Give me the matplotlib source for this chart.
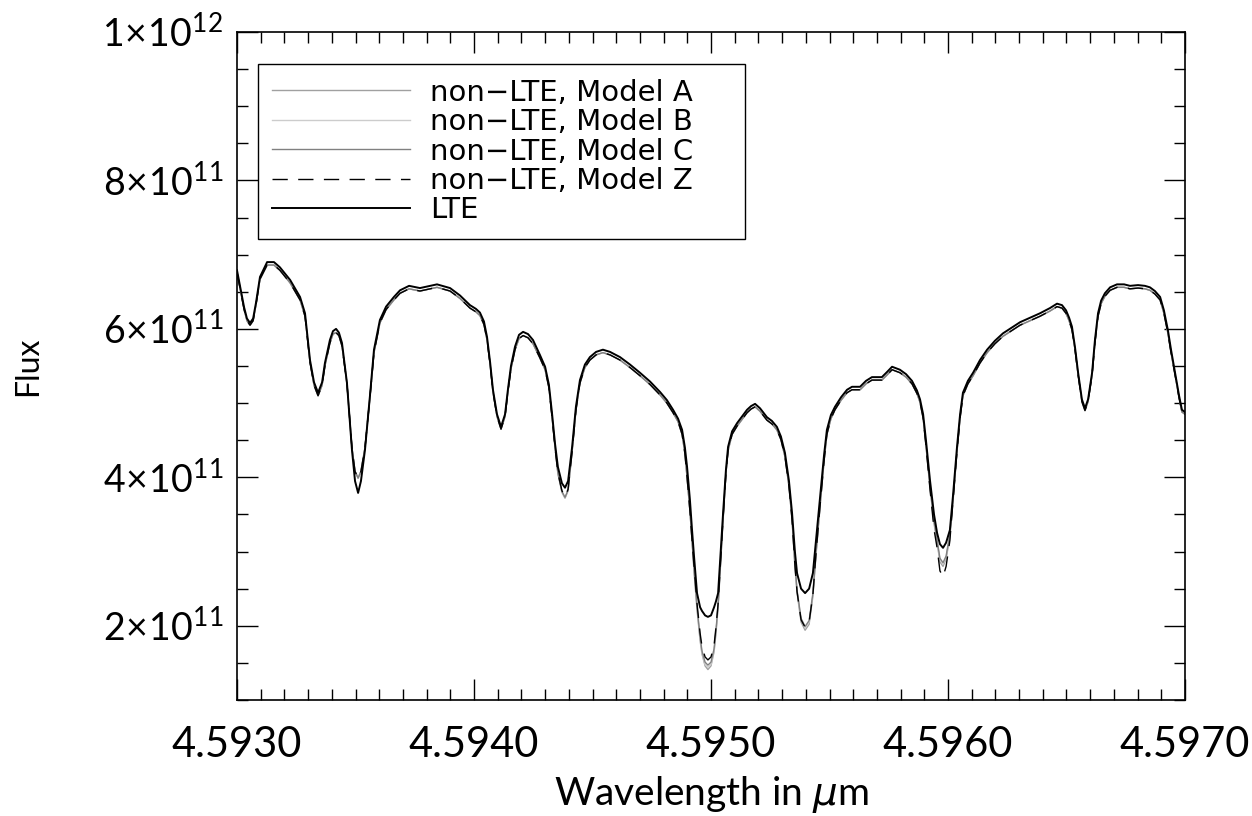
import matplotlib
matplotlib.use("Agg")
import matplotlib.pyplot as plt
from matplotlib.ticker import MultipleLocator, FixedLocator

# wavelength grid in micron
wavelength = [
    4.593000, 4.593030, 4.593042, 4.593055, 4.593068, 4.593080, 4.593097, 4.593127, 4.593156, 4.593181,
    4.593224, 4.593266, 4.593287, 4.593308, 4.593325, 4.593342, 4.593359, 4.593371, 4.593392, 4.593405,
    4.593418, 4.593430, 4.593443, 4.593464, 4.593485, 4.593498, 4.593511, 4.593523, 4.593540, 4.593561,
    4.593578, 4.593603, 4.593629, 4.593662, 4.593688, 4.593726, 4.593772, 4.593814, 4.593844, 4.593899,
    4.593941, 4.593983, 4.594008, 4.594025, 4.594042, 4.594055, 4.594068, 4.594080, 4.594097, 4.594114,
    4.594131, 4.594143, 4.594156, 4.594173, 4.594190, 4.594207, 4.594228, 4.594249, 4.594278, 4.594300,
    4.594316, 4.594329, 4.594342, 4.594354, 4.594371, 4.594384, 4.594397, 4.594414, 4.594430, 4.594447,
    4.594468, 4.594489, 4.594515, 4.594544, 4.594574, 4.594616, 4.594658, 4.594700, 4.594743, 4.594785,
    4.594814, 4.594840, 4.594861, 4.594878, 4.594890, 4.594899, 4.594911, 4.594920, 4.594928, 4.594941,
    4.594954, 4.594962, 4.594975, 4.594987, 4.595000, 4.595013, 4.595021, 4.595030, 4.595038, 4.595051,
    4.595063, 4.595072, 4.595089, 4.595110, 4.595152, 4.595169, 4.595186, 4.595207, 4.595236, 4.595257,
    4.595278, 4.595295, 4.595312, 4.595329, 4.595342, 4.595354, 4.595363, 4.595380, 4.595397, 4.595414,
    4.595430, 4.595443, 4.595460, 4.595477, 4.595489, 4.595506, 4.595523, 4.595549, 4.595574, 4.595595,
    4.595629, 4.595654, 4.595679, 4.595721, 4.595743, 4.595764, 4.595797, 4.595823, 4.595848, 4.595869,
    4.595882, 4.595895, 4.595907, 4.595924, 4.595941, 4.595954, 4.595966, 4.595979, 4.595992, 4.596008,
    4.596021, 4.596038, 4.596051, 4.596063, 4.596084, 4.596106, 4.596135, 4.596165, 4.596198, 4.596232,
    4.596270, 4.596304, 4.596346, 4.596388, 4.596430, 4.596460, 4.596481, 4.596498, 4.596511, 4.596523,
    4.596536, 4.596549, 4.596565, 4.596578, 4.596591, 4.596608, 4.596620, 4.596633, 4.596646, 4.596662,
    4.596684, 4.596713, 4.596743, 4.596768, 4.596802, 4.596831, 4.596852, 4.596873, 4.596895, 4.596911,
    4.596928, 4.596941, 4.596958, 4.596975, 4.596987, 4.597000,
]

# flux in units of 1e11
flux_lte = [
    6.79, 6.29, 6.14, 6.08, 6.14, 6.35, 6.70, 6.90, 6.90, 6.83,
    6.66, 6.43, 6.21, 5.58, 5.28, 5.14, 5.28, 5.54, 5.85, 5.97,
    6.00, 5.95, 5.81, 5.27, 4.37, 3.95, 3.79, 3.95, 4.37, 5.10,
    5.72, 6.12, 6.30, 6.43, 6.52, 6.58, 6.55, 6.58, 6.60, 6.55,
    6.45, 6.32, 6.27, 6.22, 6.10, 5.89, 5.55, 5.18, 4.85, 4.68,
    4.85, 5.18, 5.50, 5.76, 5.92, 5.96, 5.93, 5.85, 5.65, 5.49,
    5.25, 4.87, 4.45, 4.14, 3.92, 3.86, 3.95, 4.41, 4.95, 5.31,
    5.52, 5.62, 5.69, 5.72, 5.69, 5.62, 5.52, 5.41, 5.29, 5.15,
    5.04, 4.91, 4.79, 4.64, 4.40, 4.14, 3.70, 3.29, 2.95, 2.44,
    2.25, 2.20, 2.14, 2.12, 2.14, 2.25, 2.33, 2.44, 2.85, 3.52,
    4.10, 4.41, 4.62, 4.73, 4.91, 4.96, 4.99, 4.93, 4.81, 4.76,
    4.68, 4.55, 4.33, 3.95, 3.52, 3.00, 2.71, 2.50, 2.44, 2.50,
    2.71, 3.15, 3.74, 4.30, 4.64, 4.84, 4.95, 5.08, 5.18, 5.22,
    5.22, 5.30, 5.35, 5.35, 5.42, 5.49, 5.45, 5.39, 5.30, 5.17,
    5.05, 4.85, 4.50, 3.96, 3.50, 3.25, 3.10, 3.05, 3.12, 3.29,
    3.75, 4.41, 4.85, 5.14, 5.30, 5.41, 5.58, 5.72, 5.84, 5.94,
    6.02, 6.09, 6.15, 6.21, 6.28, 6.34, 6.32, 6.25, 6.15, 6.03,
    5.75, 5.41, 5.05, 4.93, 5.05, 5.41, 5.85, 6.21, 6.38, 6.48,
    6.56, 6.60, 6.60, 6.58, 6.59, 6.58, 6.56, 6.51, 6.43, 6.25,
    5.98, 5.72, 5.41, 5.10, 4.91, 4.88,
]

flux_a = [
    6.76, 6.26, 6.11, 6.05, 6.11, 6.32, 6.67, 6.86, 6.86, 6.79,
    6.62, 6.39, 6.17, 5.55, 5.24, 5.10, 5.24, 5.50, 5.81, 5.93,
    5.95, 5.91, 5.77, 5.26, 4.40, 4.08, 3.99, 4.08, 4.40, 5.08,
    5.68, 6.08, 6.26, 6.39, 6.48, 6.54, 6.51, 6.54, 6.56, 6.51,
    6.41, 6.28, 6.23, 6.18, 6.06, 5.85, 5.52, 5.15, 4.82, 4.65,
    4.82, 5.15, 5.46, 5.72, 5.87, 5.91, 5.88, 5.80, 5.61, 5.45,
    5.21, 4.82, 4.40, 4.05, 3.80, 3.72, 3.82, 4.35, 4.90, 5.27,
    5.48, 5.58, 5.65, 5.68, 5.65, 5.58, 5.48, 5.37, 5.25, 5.11,
    5.00, 4.87, 4.75, 4.58, 4.32, 4.00, 3.55, 3.15, 2.75, 2.22,
    1.80, 1.62, 1.46, 1.41, 1.46, 1.65, 1.90, 2.25, 2.70, 3.42,
    4.05, 4.36, 4.58, 4.69, 4.87, 4.92, 4.95, 4.89, 4.77, 4.72,
    4.64, 4.51, 4.28, 3.88, 3.42, 2.80, 2.45, 2.05, 1.94, 2.02,
    2.40, 2.95, 3.60, 4.22, 4.58, 4.79, 4.91, 5.04, 5.14, 5.18,
    5.18, 5.26, 5.31, 5.31, 5.38, 5.45, 5.41, 5.35, 5.26, 5.13,
    5.01, 4.80, 4.43, 3.86, 3.38, 3.12, 2.86, 2.80, 2.90, 3.20,
    3.68, 4.35, 4.80, 5.10, 5.26, 5.37, 5.54, 5.68, 5.80, 5.90,
    5.98, 6.05, 6.11, 6.17, 6.24, 6.30, 6.28, 6.21, 6.11, 5.99,
    5.72, 5.38, 5.02, 4.90, 5.02, 5.38, 5.81, 6.17, 6.34, 6.44,
    6.52, 6.56, 6.56, 6.54, 6.55, 6.54, 6.52, 6.47, 6.39, 6.21,
    5.94, 5.68, 5.38, 5.07, 4.88, 4.85,
]

flux_b = [
    6.76, 6.26, 6.11, 6.05, 6.11, 6.32, 6.67, 6.86, 6.86, 6.79,
    6.62, 6.39, 6.17, 5.55, 5.24, 5.10, 5.24, 5.50, 5.81, 5.93,
    5.95, 5.91, 5.77, 5.26, 4.40, 4.08, 3.99, 4.08, 4.40, 5.08,
    5.68, 6.08, 6.26, 6.39, 6.48, 6.54, 6.51, 6.54, 6.56, 6.51,
    6.41, 6.28, 6.23, 6.18, 6.06, 5.85, 5.52, 5.15, 4.82, 4.65,
    4.82, 5.15, 5.46, 5.72, 5.87, 5.91, 5.88, 5.80, 5.61, 5.45,
    5.21, 4.82, 4.40, 4.05, 3.80, 3.72, 3.82, 4.35, 4.90, 5.27,
    5.48, 5.58, 5.65, 5.68, 5.65, 5.58, 5.48, 5.37, 5.25, 5.11,
    5.00, 4.87, 4.75, 4.58, 4.32, 4.00, 3.55, 3.15, 2.77, 2.24,
    1.82, 1.64, 1.48, 1.44, 1.48, 1.67, 1.92, 2.27, 2.71, 3.43,
    4.05, 4.36, 4.58, 4.69, 4.87, 4.92, 4.95, 4.89, 4.77, 4.72,
    4.64, 4.51, 4.28, 3.88, 3.43, 2.82, 2.47, 2.08, 1.97, 2.05,
    2.42, 2.97, 3.61, 4.22, 4.58, 4.79, 4.91, 5.04, 5.14, 5.18,
    5.18, 5.26, 5.31, 5.31, 5.38, 5.45, 5.41, 5.35, 5.26, 5.13,
    5.01, 4.80, 4.43, 3.87, 3.40, 3.14, 2.89, 2.83, 2.92, 3.22,
    3.68, 4.35, 4.80, 5.10, 5.26, 5.37, 5.54, 5.68, 5.80, 5.90,
    5.98, 6.05, 6.11, 6.17, 6.24, 6.30, 6.28, 6.21, 6.11, 5.99,
    5.72, 5.38, 5.02, 4.90, 5.02, 5.38, 5.81, 6.17, 6.34, 6.44,
    6.52, 6.56, 6.56, 6.54, 6.55, 6.54, 6.52, 6.47, 6.39, 6.21,
    5.94, 5.68, 5.38, 5.07, 4.88, 4.85,
]

flux_c = [
    6.76, 6.26, 6.11, 6.05, 6.11, 6.32, 6.67, 6.86, 6.86, 6.79,
    6.62, 6.39, 6.17, 5.55, 5.24, 5.10, 5.24, 5.50, 5.81, 5.93,
    5.95, 5.91, 5.77, 5.26, 4.40, 4.08, 3.99, 4.08, 4.40, 5.08,
    5.68, 6.08, 6.26, 6.39, 6.48, 6.54, 6.51, 6.54, 6.56, 6.51,
    6.41, 6.28, 6.23, 6.18, 6.06, 5.85, 5.52, 5.15, 4.82, 4.65,
    4.82, 5.15, 5.46, 5.72, 5.87, 5.91, 5.88, 5.80, 5.61, 5.45,
    5.21, 4.82, 4.40, 4.06, 3.81, 3.73, 3.83, 4.35, 4.90, 5.27,
    5.48, 5.58, 5.65, 5.68, 5.65, 5.58, 5.48, 5.37, 5.25, 5.11,
    5.00, 4.87, 4.75, 4.58, 4.32, 4.00, 3.55, 3.15, 2.79, 2.26,
    1.85, 1.66, 1.51, 1.47, 1.51, 1.69, 1.94, 2.28, 2.72, 3.44,
    4.05, 4.36, 4.58, 4.69, 4.87, 4.92, 4.95, 4.89, 4.77, 4.72,
    4.64, 4.51, 4.28, 3.88, 3.44, 2.84, 2.48, 2.10, 1.99, 2.07,
    2.44, 2.98, 3.62, 4.22, 4.58, 4.79, 4.91, 5.04, 5.14, 5.18,
    5.18, 5.26, 5.31, 5.31, 5.38, 5.45, 5.41, 5.35, 5.26, 5.13,
    5.01, 4.80, 4.43, 3.88, 3.42, 3.15, 2.91, 2.85, 2.94, 3.24,
    3.68, 4.35, 4.80, 5.10, 5.26, 5.37, 5.54, 5.68, 5.80, 5.90,
    5.98, 6.05, 6.11, 6.17, 6.24, 6.30, 6.28, 6.21, 6.11, 5.99,
    5.72, 5.38, 5.02, 4.90, 5.02, 5.38, 5.81, 6.17, 6.34, 6.44,
    6.52, 6.56, 6.56, 6.54, 6.55, 6.54, 6.52, 6.47, 6.39, 6.21,
    5.94, 5.68, 5.38, 5.07, 4.88, 4.85,
]

flux_z = [
    6.76, 6.26, 6.11, 6.05, 6.11, 6.32, 6.67, 6.86, 6.86, 6.79,
    6.62, 6.39, 6.17, 5.55, 5.24, 5.10, 5.24, 5.50, 5.81, 5.93,
    5.95, 5.91, 5.77, 5.26, 4.40, 4.08, 3.99, 4.08, 4.40, 5.08,
    5.68, 6.08, 6.26, 6.39, 6.48, 6.54, 6.51, 6.54, 6.56, 6.51,
    6.41, 6.28, 6.23, 6.18, 6.06, 5.85, 5.52, 5.15, 4.82, 4.65,
    4.82, 5.15, 5.46, 5.72, 5.87, 5.91, 5.88, 5.80, 5.61, 5.45,
    5.21, 4.82, 4.40, 4.06, 3.82, 3.74, 3.84, 4.35, 4.90, 5.27,
    5.48, 5.58, 5.65, 5.68, 5.65, 5.58, 5.48, 5.37, 5.25, 5.11,
    5.00, 4.87, 4.75, 4.58, 4.32, 4.00, 3.55, 3.15, 2.82, 2.30,
    1.90, 1.72, 1.58, 1.54, 1.58, 1.74, 1.98, 2.30, 2.74, 3.45,
    4.05, 4.36, 4.58, 4.69, 4.87, 4.92, 4.95, 4.89, 4.77, 4.72,
    4.64, 4.51, 4.28, 3.88, 3.43, 2.82, 2.46, 2.08, 1.98, 2.05,
    2.42, 2.97, 3.61, 4.22, 4.58, 4.79, 4.91, 5.04, 5.14, 5.18,
    5.18, 5.26, 5.31, 5.31, 5.38, 5.45, 5.41, 5.35, 5.26, 5.13,
    5.01, 4.80, 4.43, 3.84, 3.30, 3.05, 2.74, 2.66, 2.80, 3.15,
    3.68, 4.35, 4.80, 5.10, 5.26, 5.37, 5.54, 5.68, 5.80, 5.90,
    5.98, 6.05, 6.11, 6.17, 6.24, 6.30, 6.28, 6.21, 6.11, 5.99,
    5.72, 5.38, 5.02, 4.90, 5.02, 5.38, 5.81, 6.17, 6.34, 6.44,
    6.52, 6.56, 6.56, 6.54, 6.55, 6.54, 6.52, 6.47, 6.39, 6.21,
    5.94, 5.68, 5.38, 5.07, 4.88, 4.85,
]

x_ticks = [4.5930, 4.5940, 4.5950, 4.5960, 4.5970]
x_ticklabels = ["4.5930", "4.5940", "4.5950", "4.5960", "4.5970"]
y_ticks = [2e11, 4e11, 6e11, 8e11, 1e12]
y_ticklabels = [r"$2\!\times\!10^{11}$", r"$4\!\times\!10^{11}$", r"$6\!\times\!10^{11}$",
                r"$8\!\times\!10^{11}$", r"$1\!\times\!10^{12}$"]

plt.rcParams["font.family"] = ["Lato", "DejaVu Sans"]
plt.rcParams["mathtext.fontset"] = "custom"
plt.rcParams["mathtext.rm"] = "Lato"
plt.rcParams["mathtext.it"] = "DejaVu Sans:italic"

fig = plt.figure(figsize=(12.52, 8.16), dpi=100)
ax = fig.add_axes([237 / 1252, 1 - 700 / 816, 948 / 1252, 668 / 816])

sc = 1e11
ax.plot(wavelength, [v * sc for v in flux_a], color="#a0a0a0", lw=1.0, label="non\u2212LTE, Model A")
ax.plot(wavelength, [v * sc for v in flux_b], color="#cccccc", lw=1.0, label="non\u2212LTE, Model B")
ax.plot(wavelength, [v * sc for v in flux_c], color="#808080", lw=1.0, label="non\u2212LTE, Model C")
ax.plot(wavelength, [v * sc for v in flux_z], color="black", lw=1.0, ls=(0, (11, 7.5)), label="non\u2212LTE, Model Z")
ax.plot(wavelength, [v * sc for v in flux_lte], color="black", lw=1.4, label="LTE")

ax.set_xlim(4.5930, 4.5970)
ax.set_ylim(1e11, 1e12)
ax.xaxis.set_major_locator(FixedLocator(x_ticks))
ax.set_xticklabels(x_ticklabels)
ax.xaxis.set_minor_locator(MultipleLocator(0.0001))
ax.yaxis.set_major_locator(FixedLocator(y_ticks))
ax.set_yticklabels(y_ticklabels)
ax.yaxis.set_minor_locator(MultipleLocator(0.5e11))

ax.tick_params(which="both", direction="in", top=True, right=True, width=1.0)
ax.tick_params(which="major", length=15)
ax.tick_params(which="minor", length=8)
ax.tick_params(axis="x", which="major", labelsize=30, pad=19)
ax.tick_params(axis="y", which="major", labelsize=27, pad=10)
for s in ax.spines.values():
    s.set_linewidth(1.2)

ax.set_xlabel(r"Wavelength in $\mu$m", fontsize=28)
ax.xaxis.set_label_coords(0.5, -0.142)
ax.xaxis.label.set_va("center")
ax.set_ylabel("Flux", fontsize=23)
ax.yaxis.set_label_coords(-0.2205, 0.5)
ax.yaxis.label.set_va("center")

leg = ax.legend(loc="upper left", bbox_to_anchor=(0.022, 0.0, (745 - 258) / 948, 0.952),
                mode="expand", prop={"family": "DejaVu Sans", "size": 21},
                frameon=True, fancybox=False, edgecolor="black", framealpha=1,
                handlelength=4.7, handletextpad=0.7, labelspacing=0.05,
                borderpad=0.5, borderaxespad=0)
leg.get_frame().set_linewidth(1.0)

fig.savefig("out.png", dpi=100)
